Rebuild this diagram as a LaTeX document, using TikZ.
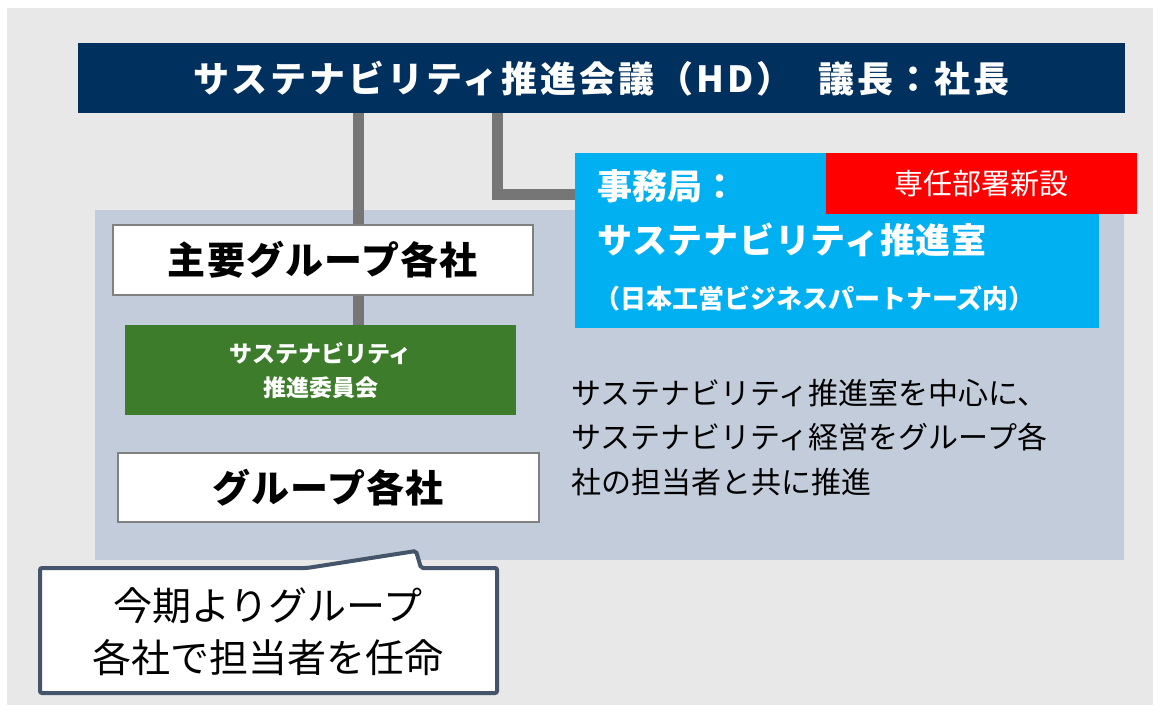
\documentclass[tikz,border=0pt]{standalone}
\usepackage{fontspec}
\setmainfont{Noto Sans CJK JP}
\definecolor{bggray}{RGB}{232,232,232}
\definecolor{panel}{RGB}{195,204,218}
\definecolor{navy}{RGB}{0,48,94}
\definecolor{conn}{RGB}{118,118,118}
\definecolor{skyblue}{RGB}{0,176,240}
\definecolor{alertred}{RGB}{255,0,0}
\definecolor{leaf}{RGB}{61,124,42}
\definecolor{slate}{RGB}{68,84,106}
\definecolor{boxline}{RGB}{128,128,128}
\tikzset{
  box/.style={inner sep=0pt, anchor=north west, align=center},
  whitebox/.style={box, fill=white, draw=boxline, line width=1.5pt, text=black,
    font=\bfseries\fontsize{38}{44}\selectfont\addfontfeature{LetterSpace=3}},
  connector/.style={draw=conn, line width=11pt},
}
\begin{document}
\begin{tikzpicture}[x=1pt,y=-1pt]
\useasboundingbox (0,0) rectangle (1160,712);
\fill[bggray] (7,8) rectangle (1153,705);
\fill[panel] (95,210) rectangle (1124,560);

\node[box, fill=navy, text=white, minimum width=1047pt, minimum height=70pt,
  font=\bfseries\fontsize{36}{42}\selectfont\addfontfeature{LetterSpace=8}] (hd) at (78,43)
  {サステナビリティ推進会議（HD）\hspace{26pt}議長：社長};

\node[whitebox, minimum width=420pt, minimum height=70pt] (main) at (112,224) {主要グループ各社};
\node[box, fill=leaf, text=white, minimum width=391pt, minimum height=90pt,
  font=\bfseries\fontsize{23}{34}\selectfont] (comm) at (125,325)
  {サステナビリティ\\推進委員会};
\node[whitebox, minimum width=421pt, minimum height=69pt] (group) at (117,452) {グループ各社};

\node[box, fill=skyblue, minimum width=524pt, minimum height=175pt] (sec) at (575,153) {};
\node[anchor=west, inner sep=0pt, text=white, font=\bfseries\fontsize{35}{40}\selectfont] (secA) at (597,186) {事務局：};
\node[anchor=west, inner sep=0pt, text=white, font=\bfseries\fontsize{35}{40}\selectfont\addfontfeature{LetterSpace=2}] (secB) at (597,240) {サステナビリティ推進室};
\node[anchor=west, inner sep=0pt, text=white, font=\bfseries\fontsize{26}{30}\selectfont] (secC) at (594,298) {（日本工営ビジネスパートナーズ内）};

\node[box, fill=alertred, text=white, minimum width=311pt, minimum height=61pt,
  font=\fontsize{29}{32}\selectfont] (new) at (826,153) {専任部署新設};

\node[anchor=north west, inner sep=0pt, align=left, text=black,
  font=\fontsize{30}{44.5}\selectfont] (desc) at (571,379)
  {サステナビリティ推進室を中心に、\\サステナビリティ経営をグループ各\\社の担当者と共に推進};

\coordinate (c1) at (358,0);
\coordinate (c2) at (497,194);
\draw[connector] (hd.south -| c1) -- (main.north -| c1);
\draw[connector] (main.south -| c1) -- (comm.north -| c1);
\draw[connector] (hd.south -| c2) |- (sec.west |- c2);

\path[fill=white, draw=slate, line width=4pt, rounded corners=2pt]
  (40,568) -- (307,568) -- (416,551) -- (421,568) -- (497,568) -- (497,693) -- (40,693) -- cycle;
\node[inner sep=0pt, align=center, text=black, font=\fontsize{39}{52}\selectfont] (note) at (268,632)
  {今期よりグループ\\各社で担当者を任命};
\end{tikzpicture}
\end{document}
